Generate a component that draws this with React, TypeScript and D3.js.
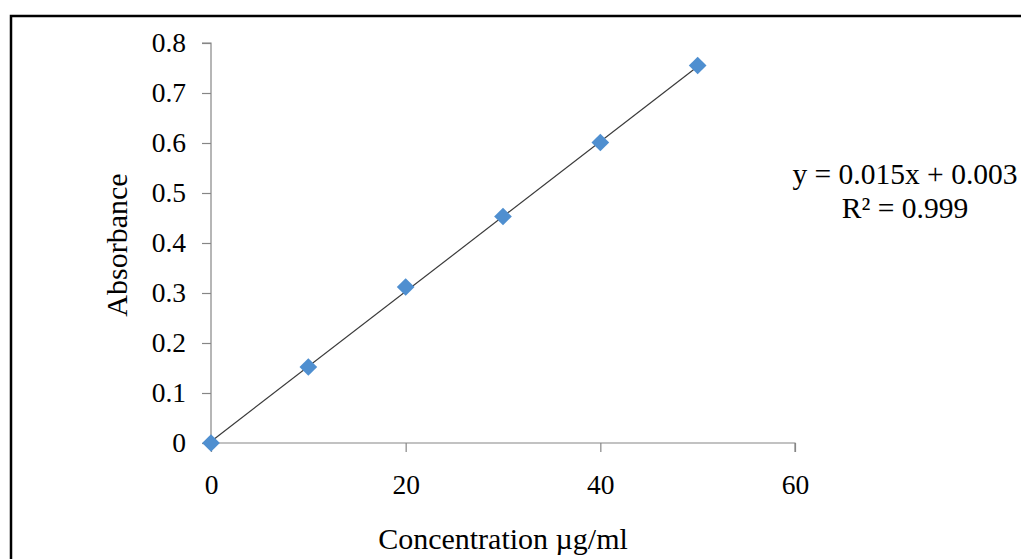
import React, { useRef, useEffect } from "react";
import * as d3 from "d3";

// calibration data
const concentrations = [0, 10, 20, 30, 40, 50];
const absorbances = [0, 0.152, 0.312, 0.453, 0.601, 0.755];
const xTicks = [0, 20, 40, 60];
const yTicks = [0, 0.1, 0.2, 0.3, 0.4, 0.5, 0.6, 0.7, 0.8];
const slope = 0.015;
const intercept = 0.003;
const equationLines = ["y = 0.015x + 0.003", "R\u00b2 = 0.999"];

const W = 1021;
const H = 559;
const FONT = "'Liberation Serif', 'Times New Roman', serif";

const App = () => {
  const svgRef = useRef<SVGSVGElement>(null);

  useEffect(() => {
    const svg = d3.select(svgRef.current);
    svg.selectAll("*").remove(); //clear

    // outer frame (right/bottom edges fall outside the picture)
    svg
      .append("rect")
      .attr("x", 11)
      .attr("y", 16)
      .attr("width", W + 20)
      .attr("height", H + 20)
      .attr("fill", "none")
      .attr("stroke", "#000")
      .attr("stroke-width", 2.5);

    const xScale = d3.scaleLinear().domain([0, 60]).range([211, 795]);
    const yScale = d3.scaleLinear().domain([0, 0.8]).range([443, 43]);

    // x axis
    const xAxis = d3
      .axisBottom(xScale)
      .tickValues(xTicks)
      .tickSize(9)
      .tickPadding(22)
      .tickFormat((d) => d3.format("d")(d as number));
    const gx = svg.append("g").attr("transform", `translate(0, ${yScale(0)})`).call(xAxis);

    // y axis
    const yAxis = d3
      .axisLeft(yScale)
      .tickValues(yTicks)
      .tickSize(9)
      .tickPadding(16)
      .tickFormat((d) => ((d as number) === 0 ? "0" : d3.format(".1f")(d as number)));
    const gy = svg.append("g").attr("transform", `translate(${xScale(0)}, 0)`).call(yAxis);

    [gx, gy].forEach((g) => {
      g.select(".domain").attr("stroke", "#868686").attr("stroke-width", 1.2);
      g.selectAll(".tick line").attr("stroke", "#868686").attr("stroke-width", 1.2);
      g.selectAll(".tick text")
        .attr("fill", "#000")
        .style("font-family", FONT)
        .style("font-size", "27.5px");
    });
    gx.select(".domain").attr("d", `M${xScale(0)},0H${xScale(60)}V9`);
    gy.select(".domain").attr("d", `M-9,${yScale(0.8)}H0V${yScale(0)}`);

    // linear trend line
    const trend = d3
      .line<number>()
      .x((d) => xScale(d))
      .y((d) => yScale(slope * d + intercept));
    svg
      .append("path")
      .datum([0, 50])
      .attr("d", trend)
      .attr("fill", "none")
      .attr("stroke", "#3a3a3a")
      .attr("stroke-width", 1.2);

    // diamond markers
    const diamond = d3.symbol().type(d3.symbolDiamond2).size(200);
    svg
      .selectAll("path.pt")
      .data(concentrations)
      .enter()
      .append("path")
      .attr("class", "pt")
      .attr("d", diamond)
      .attr("transform", (d, i) => `translate(${xScale(d)}, ${yScale(absorbances[i])})`)
      .attr("fill", "#4f8fd0");

    // equation label
    svg
      .append("g")
      .selectAll("text")
      .data(equationLines)
      .enter()
      .append("text")
      .attr("x", 905)
      .attr("y", (d, i) => 184 + i * 34)
      .attr("text-anchor", "middle")
      .style("font-family", FONT)
      .style("font-size", "29.5px")
      .text((d) => d);

    // axis titles
    svg
      .append("text")
      .attr("x", 503)
      .attr("y", 549)
      .attr("text-anchor", "middle")
      .style("font-family", FONT)
      .style("font-size", "30px")
      .text("Concentration \u00b5g/ml");

    svg
      .append("text")
      .attr("transform", `translate(127, 245) rotate(-90)`)
      .attr("text-anchor", "middle")
      .style("font-family", FONT)
      .style("font-size", "30px")
      .text("Absorbance");
  }, []);

  return (
    <svg
      ref={svgRef}
      width={W}
      height={H}
      style={{ position: "absolute", left: 0, top: 0, background: "#fff" }}
    ></svg>
  );
};

export default App;
